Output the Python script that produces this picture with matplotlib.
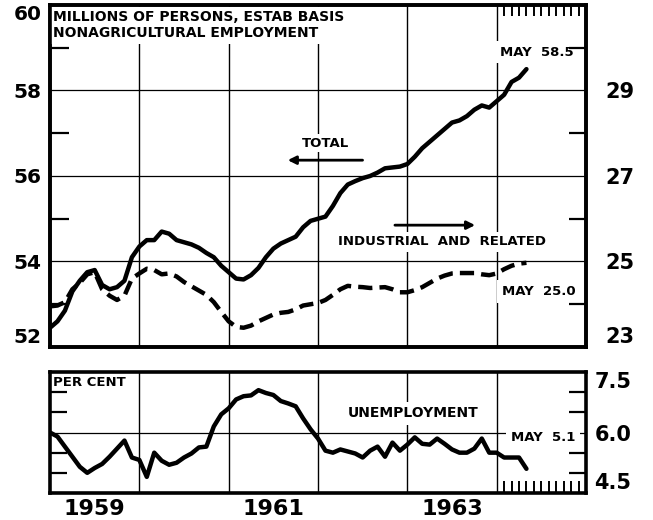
import numpy as np
import matplotlib
matplotlib.use('Agg')
import matplotlib.pyplot as plt

# ---------------- data (monthly, Jan 1959 - May 1964) ----------------
start_year = 1959
total = [52.45, 52.6, 52.85, 53.3, 53.55, 53.75, 53.8, 53.45, 53.35, 53.4,
         53.55, 54.1, 54.35, 54.5, 54.5, 54.7, 54.65, 54.5, 54.45, 54.4,
         54.32, 54.2, 54.1, 53.9, 53.75, 53.6, 53.58, 53.68, 53.85, 54.1,
         54.3, 54.42, 54.5, 54.58, 54.8, 54.95, 55.0, 55.05, 55.3, 55.6,
         55.8, 55.88, 55.95, 56.0, 56.08, 56.18, 56.2, 56.22, 56.28, 56.45,
         56.65, 56.8, 56.95, 57.1, 57.25, 57.3, 57.4, 57.55, 57.65, 57.6,
         57.75, 57.9, 58.2, 58.3, 58.5]
industrial = [23.95, 23.97, 24.05, 24.35, 24.5, 24.7, 24.75, 24.35, 24.2, 24.1,
              24.2, 24.6, 24.72, 24.83, 24.8, 24.7, 24.72, 24.65, 24.52, 24.42,
              24.32, 24.22, 24.05, 23.82, 23.6, 23.47, 23.45, 23.5, 23.6, 23.68,
              23.76, 23.8, 23.82, 23.88, 23.97, 24.0, 24.03, 24.1, 24.22, 24.35,
              24.43, 24.41, 24.4, 24.38, 24.39, 24.4, 24.35, 24.28, 24.28, 24.33,
              24.4, 24.5, 24.6, 24.67, 24.72, 24.73, 24.73, 24.73, 24.7, 24.68,
              24.72, 24.82, 24.9, 24.95, 24.97]
unemployment = [6.0, 5.9, 5.65, 5.4, 5.15, 5.0, 5.12, 5.22, 5.4, 5.6,
                5.8, 5.38, 5.32, 4.9, 5.5, 5.3, 5.2, 5.25, 5.38, 5.48,
                5.63, 5.65, 6.15, 6.45, 6.6, 6.82, 6.9, 6.92, 7.05, 6.98,
                6.93, 6.78, 6.72, 6.65, 6.35, 6.08, 5.85, 5.55, 5.5, 5.58,
                5.53, 5.48, 5.38, 5.55, 5.65, 5.4, 5.75, 5.55, 5.7, 5.88,
                5.72, 5.7, 5.85, 5.72, 5.58, 5.5, 5.5, 5.6, 5.85, 5.5,
                5.5, 5.38, 5.38, 5.38, 5.1]
year_labels = ['1959', '1961', '1963']
year_label_pos = [1959.5, 1961.5, 1963.5]
left_ticks = [52, 54, 56, 58, 60]
right_ticks = [23, 25, 27, 29]
unemp_ticks = [4.5, 6.0, 7.5]

t = start_year + np.arange(len(total)) / 12.0
month_ticks_1964 = 1964 + np.arange(1, 12) / 12.0

BOLD = dict(fontweight='bold', family='DejaVu Sans')
W = 'white'

fig = plt.figure(figsize=(6.53, 5.2), dpi=100)
ax1 = fig.add_axes([0.0766, 0.3327, 0.8208, 0.6577])
ax1r = ax1.twinx()
ax2 = fig.add_axes([0.0766, 0.0519, 0.8208, 0.2327])

for a in (ax1, ax1r, ax2):
    for s in a.spines.values():
        s.set_linewidth(2.6)
        s.set_zorder(10)
    a.set_xlim(1959, 1965)
    a.xaxis.set_zorder(9)
    a.yaxis.set_zorder(9)

# ---------------- top panel ----------------
ax1.set_ylim(52, 60)
ax1r.set_ylim(23, 31)
ax1r.patch.set_visible(False)

for v in (54, 56, 58):
    ax1.axhline(v, color='black', lw=0.9, zorder=1)
for yr in range(1960, 1965):
    ax1.axvline(yr, color='black', lw=1.0, zorder=1)

ax1.plot(t, total, color='black', lw=3.2, solid_capstyle='round', zorder=4)
ax1r.plot(t, industrial, color='black', lw=3.2, dashes=(3.2, 1.6), zorder=4)

ax1.set_yticks(left_ticks)
ax1.set_yticklabels([str(v) for v in left_ticks], fontsize=14.5, **BOLD)
ax1.set_yticks([53, 55, 57, 59], minor=True)
ax1.tick_params(axis='y', which='major', length=0, pad=6)
ax1.tick_params(axis='y', which='minor', direction='in', length=14, width=1.6)
labs = ax1.get_yticklabels()
labs[0].set_va('bottom')
labs[-1].set_va('top')

ax1r.set_yticks(right_ticks)
ax1r.set_yticklabels([str(v) for v in right_ticks], fontsize=15, **BOLD)
ax1r.set_yticks([24, 26, 28, 30], minor=True)
ax1r.tick_params(axis='y', which='major', length=0, pad=14)
ax1r.tick_params(axis='y', which='minor', direction='in', length=12, width=1.6)
rlabs = ax1r.get_yticklabels()
rlabs[0].set_va('bottom')

ax1.set_xticks([])
ax1.set_xticks(month_ticks_1964, minor=True)
ax1.tick_params(axis='x', which='minor', direction='in', length=8, width=1.4,
                top=True, bottom=False)
ax1r.set_xticks([])

ax1r.text(0.006, 0.984, 'MILLIONS OF PERSONS, ESTAB BASIS\nNONAGRICULTURAL EMPLOYMENT',
          transform=ax1r.transAxes, ha='left', va='top', fontsize=10,
          linespacing=1.15, zorder=5,
          bbox=dict(facecolor=W, edgecolor='none', pad=2.5), **BOLD)

ax1r.text(1962.08, 27.77, 'TOTAL', ha='center', va='center', fontsize=9.5,
          zorder=5, bbox=dict(facecolor=W, edgecolor='none', pad=1.5), **BOLD)
ax1r.annotate('', xy=(1961.63, 27.37), xytext=(1962.53, 27.37),
              arrowprops=dict(arrowstyle='-|>', color='black', lw=2,
                              mutation_scale=12), zorder=5)

ax1r.text(1963.39, 25.46, 'INDUSTRIAL  AND  RELATED', ha='center', va='center',
          fontsize=9.5, zorder=5,
          bbox=dict(facecolor=W, edgecolor='none', pad=2.5), **BOLD)
ax1r.annotate('', xy=(1963.79, 25.85), xytext=(1962.83, 25.85),
              arrowprops=dict(arrowstyle='-|>', color='black', lw=2,
                              mutation_scale=12), zorder=5)

ax1r.text(1964.86, 29.9, 'MAY  58.5', ha='right', va='center', fontsize=9.5,
          zorder=5, bbox=dict(facecolor=W, edgecolor='none', pad=3), **BOLD)
ax1r.text(1964.88, 24.29, 'MAY  25.0', ha='right', va='center', fontsize=9.5,
          zorder=5, bbox=dict(facecolor=W, edgecolor='none', pad=3.5), **BOLD)

# ---------------- bottom panel ----------------
ax2.set_ylim(4.5, 7.5)
ax2.axhline(6.0, color='black', lw=0.9, zorder=1)
for yr in range(1960, 1965):
    ax2.axvline(yr, color='black', lw=1.0, zorder=1)

ax2.plot(t, unemployment, color='black', lw=3.2, solid_capstyle='round', zorder=4)

ax2.yaxis.tick_right()
ax2.set_yticks(unemp_ticks)
ax2.set_yticklabels([f'{v:.1f}' for v in unemp_ticks], fontsize=15, **BOLD)
ax2.set_yticks([5.0, 5.5, 6.5, 7.0], minor=True)
ax2.tick_params(axis='y', which='major', length=0, pad=6, left=False, right=True)
ax2.tick_params(axis='y', which='minor', direction='in', length=12, width=1.6,
                left=True, right=True)
labs2 = ax2.get_yticklabels()
labs2[0].set_va('bottom')
labs2[-1].set_va('top')

ax2.set_xticks(year_label_pos)
ax2.set_xticklabels(year_labels, fontsize=16, **BOLD)
ax2.set_xticks(month_ticks_1964, minor=True)
ax2.tick_params(axis='x', which='major', length=0, pad=4)
ax2.tick_params(axis='x', which='minor', direction='in', length=9, width=1.4,
                top=False, bottom=True)

ax2.text(0.006, 0.965, 'PER CENT', transform=ax2.transAxes, ha='left', va='top',
         fontsize=9.5, zorder=5,
         bbox=dict(facecolor=W, edgecolor='none', pad=3), **BOLD)
ax2.text(1963.07, 6.475, 'UNEMPLOYMENT', ha='center', va='center', fontsize=10,
         zorder=5, bbox=dict(facecolor=W, edgecolor='none', pad=3), **BOLD)
ax2.text(1964.88, 5.875, 'MAY  5.1', ha='right', va='center', fontsize=9.5,
         zorder=5, bbox=dict(facecolor=W, edgecolor='none', pad=3.5), **BOLD)

fig.savefig('out.png', dpi=100, facecolor='white')
